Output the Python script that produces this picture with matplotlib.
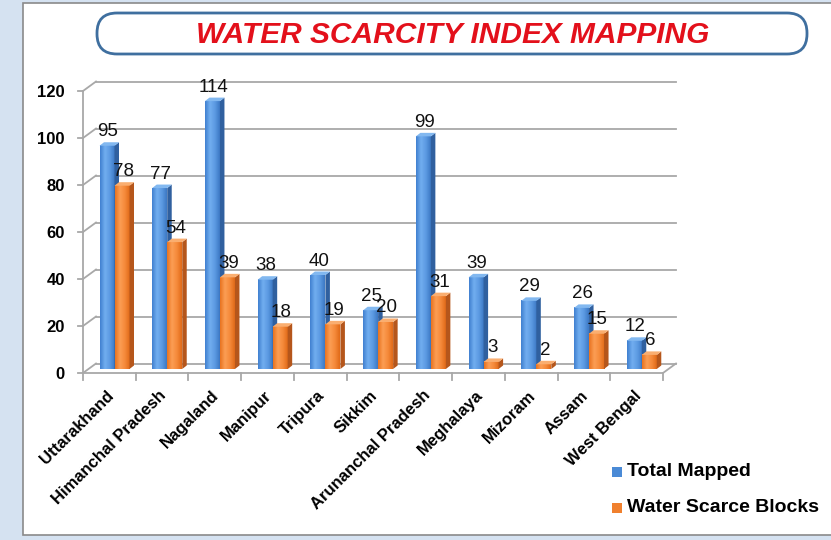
import matplotlib.pyplot as plt
import numpy as np
from matplotlib.colors import LinearSegmentedColormap
from matplotlib.patches import Rectangle, Polygon, FancyBboxPatch

plt.rcParams['font.family'] = ['Liberation Sans', 'DejaVu Sans']

states = ['Uttarakhand', 'Himanchal Pradesh', 'Nagaland', 'Manipur', 'Tripura', 'Sikkim',
          'Arunanchal Pradesh', 'Meghalaya', 'Mizoram', 'Assam', 'West Bengal']
total_mapped = [95, 77, 114, 38, 40, 25, 99, 39, 29, 26, 12]
water_scarce = [78, 54, 39, 18, 19, 20, 31, 3, 2, 15, 6]
series_names = ['Total Mapped', 'Water Scarce Blocks']
y_ticks = [0, 20, 40, 60, 80, 100, 120]

W, H = 831, 540
fig = plt.figure(figsize=(W / 100, H / 100), dpi=100, facecolor='#d5e2f1')

# page background, panel and title box (pixel coordinates)
bg = fig.add_axes([0, 0, 1, 1])
bg.set_xlim(0, W)
bg.set_ylim(H, 0)
bg.axis('off')
bg.add_patch(Rectangle((23, 3), W + 20, 532, facecolor='white', edgecolor='#8a8a8a', lw=1.2))
bg.add_patch(FancyBboxPatch((97, 13), 710, 41, boxstyle='round,pad=0,rounding_size=20',
                            facecolor='white', edgecolor='#3f6f9f', lw=2))
bg.text(453, 35, 'WATER SCARCITY INDEX MAPPING', color='#e3101b', fontsize=21.5,
        fontweight='bold', fontstyle='italic', ha='center', va='center')

# chart axes: front plane of the pseudo 3d chart
ax_l, ax_r, ax_b, ax_t = 83, 663, 373, 91
ax = fig.add_axes([ax_l / W, 1 - ax_b / H, (ax_r - ax_l) / W, (ax_b - ax_t) / H])
ax.patch.set_alpha(0)
n = len(states)
px_x = (ax_r - ax_l) / n          # pixels per category
px_y = (ax_b - ax_t) / 120        # pixels per unit

dx, dy = 13 / px_x, 9.5 / px_y    # wall depth
grid_c = '#a8a8a8'

for v in y_ticks:
    ax.plot([dx, n + dx], [v + dy, v + dy], color=grid_c, lw=1.3, clip_on=False, zorder=1)
    ax.plot([0, dx], [v, v + dy], color=grid_c, lw=1.3, clip_on=False, zorder=1)
    ax.plot([-5 / px_x, 0], [v, v], color=grid_c, lw=1.3, clip_on=False, zorder=1)
ax.plot([0, 0], [0, 120], color=grid_c, lw=1.3, clip_on=False, zorder=1)
ax.plot([0, n, n + dx], [0, 0, dy], color=grid_c, lw=1.3, clip_on=False, zorder=1)
for i in range(n + 1):
    ax.plot([i, i], [0, -7 / px_y], color=grid_c, lw=1.3, clip_on=False, zorder=1)

blue_cmap = LinearSegmentedColormap.from_list('b', ['#3f7fcf', '#72aef0', '#5c9ae2', '#3c78c4'])
orange_cmap = LinearSegmentedColormap.from_list('o', ['#e8721f', '#fc9e55', '#f58a3a', '#e06a18'])
styles = [(blue_cmap, '#30609f', '#82b8f0'), (orange_cmap, '#b5561b', '#faae70')]

bar_off = 16.5 / px_x
bar_w = 15 / px_x
lift = 4 / px_y
bdx, bdy = 4.5 / px_x, 3.5 / px_y
grad = np.linspace(0, 1, 60).reshape(1, -1)

for i in range(n):
    for k, vals in enumerate([total_mapped, water_scarce]):
        cmap, side_c, top_c = styles[k]
        x0 = i + bar_off + k * bar_w
        y0, y1 = lift, vals[i] + lift
        z = 3 + i * 2 + k
        ax.imshow(grad, cmap=cmap, extent=(x0, x0 + bar_w, y0, y1), aspect='auto',
                  interpolation='bicubic', zorder=z)
        ax.add_patch(Polygon([(x0 + bar_w, y0), (x0 + bar_w + bdx, y0 + bdy),
                              (x0 + bar_w + bdx, y1 + bdy), (x0 + bar_w, y1)],
                             facecolor=side_c, edgecolor='none', zorder=z))
        ax.add_patch(Polygon([(x0, y1), (x0 + bdx, y1 + bdy), (x0 + bar_w + bdx, y1 + bdy),
                              (x0 + bar_w, y1)], facecolor=top_c, edgecolor='none', zorder=z))
        ax.annotate(str(vals[i]), xy=(x0 + bar_w / 2, y1), xytext=(1, 14),
                    textcoords='offset pixels', ha='center', va='center',
                    fontsize=13.5, color='#111111', zorder=40)

ax.set_xlim(0, n)
ax.set_ylim(0, 120)
for s in ax.spines.values():
    s.set_visible(False)
ax.set_xticks([])
ax.set_yticks(y_ticks)
ax.set_yticklabels([str(v) for v in y_ticks], fontsize=12, fontweight='bold')
ax.tick_params(axis='y', length=0, pad=13)

for i, name in enumerate(states):
    ax.annotate(name, xy=(i + 0.5, 0), xytext=(2, -20), textcoords='offset pixels',
                rotation=45, rotation_mode='anchor', ha='right', va='center',
                fontsize=12, fontweight='bold', annotation_clip=False)

# legend
leg_c = ['#4a8ad6', '#f0802e']
for k, name in enumerate(series_names):
    yc = 472 + k * 36
    bg.add_patch(Rectangle((612, yc - 5), 10, 10, facecolor=leg_c[k], edgecolor='none'))
    bg.text(627, yc, name, fontsize=14, fontweight='bold', va='center', ha='left')

fig.savefig('out.png', dpi=100)
